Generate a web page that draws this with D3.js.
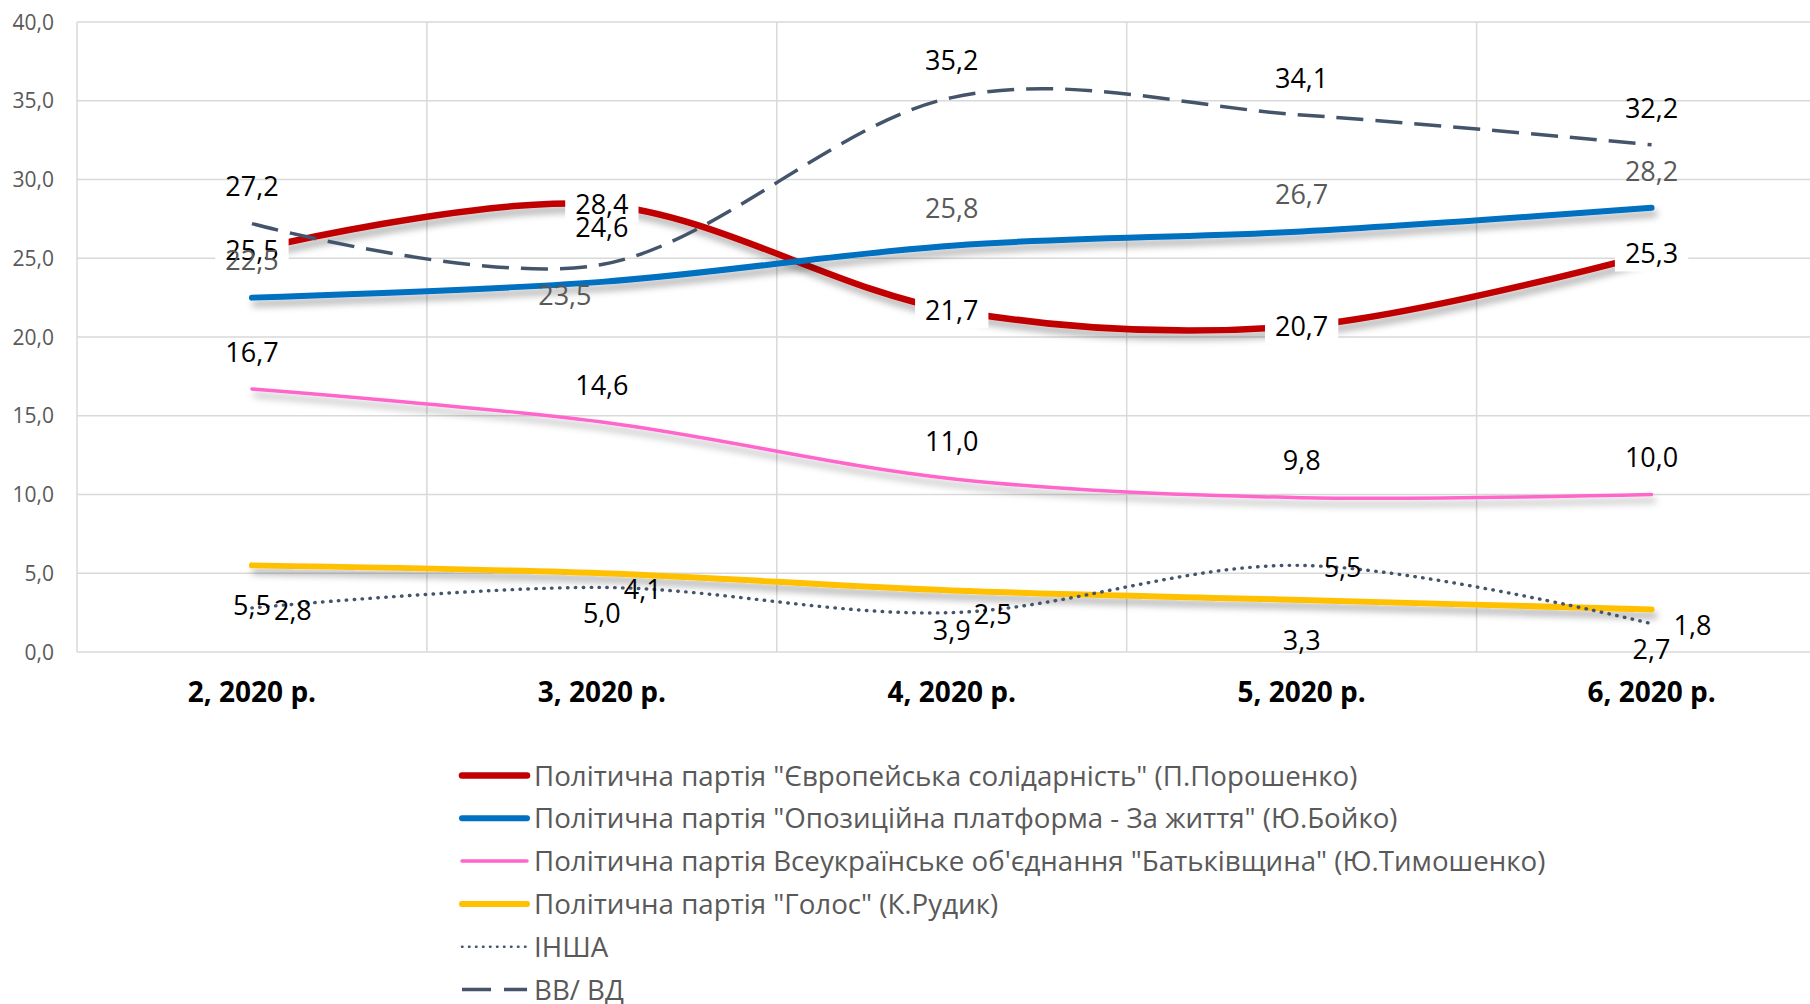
<!DOCTYPE html>
<html>
<head>
<meta charset="utf-8">
<script src="https://cdn.jsdelivr.net/npm/d3@7"></script>
<style>
  html, body { margin: 0; padding: 0; background: #fff; overflow: hidden; }
  svg { display: block; font-family: "Open Sans", "Noto Sans", sans-serif; }
  .grid line { stroke: #d9d9d9; stroke-width: 1.5; }
  .ytick { fill: #595959; font-size: 21px; }
  .xtick { fill: #000; font-size: 28px; font-weight: 700; }
  .dlabel { font-size: 27px; }
  .legend text { fill: #595959; font-size: 27.7px; }
</style>
</head>
<body>
<svg id="chart" width="1810" height="1004"></svg>
<script>
// ---------- data ----------
const categories = ["2, 2020 р.", "3, 2020 р.", "4, 2020 р.", "5, 2020 р.", "6, 2020 р."];
const seriesNames = [
  'Політична партія "Європейська солідарність" (П.Порошенко)',
  'Політична партія "Опозиційна платформа - За життя" (Ю.Бойко)',
  'Політична партія Всеукраїнське об\'єднання "Батьківщина" (Ю.Тимошенко)',
  'Політична партія "Голос" (К.Рудик)',
  "ІНША",
  "ВВ/ ВД"
];
const es = [25.5, 28.4, 21.7, 20.7, 25.3];
const opzzh = [22.5, 23.5, 25.8, 26.7, 28.2];
const batk = [16.7, 14.6, 11.0, 9.8, 10.0];
const holos = [5.5, 5.0, 3.9, 3.3, 2.7];
const other = [2.8, 4.1, 2.5, 5.5, 1.8];
const undecided = [27.2, 24.6, 35.2, 34.1, 32.2];
const yTicks = [0, 5, 10, 15, 20, 25, 30, 35, 40];

// ---------- styles per series ----------
const styles = [
  { color: "#C00000", width: 6.5, shadow: true, label: "center", lblColor: "#000", boxed: true },
  { color: "#0070C0", width: 6, shadow: true, label: "above", lblColor: "#595959" },
  { color: "#FF66CC", width: 3.5, shadow: true, label: "above", lblColor: "#000" },
  { color: "#FFC000", width: 6, shadow: true, label: "below", lblColor: "#000" },
  { color: "#44546A", width: 3.4, dash: "0.5,7.4", cap: "round", label: "right", lblColor: "#000" },
  { color: "#44546A", width: 3.5, dash: "27,12", label: "above", lblColor: "#000" }
];
const values = [es, opzzh, batk, holos, other, undecided];
// one label dragged by hand in the original
const labelNudge = { "1-1": [-37, 50] };

const svg = d3.select("#chart");

const x = d3.scaleBand().domain(categories).range([77, 1826.5]);
const cx = c => x(c) + x.bandwidth() / 2;
const y = d3.scaleLinear().domain([0, 40]).range([652, 22]);
const fmt = v => d3.format(".1f")(v).replace(".", ",");

// shadow
const defs = svg.append("defs");
const f = defs.append("filter").attr("id", "shadow")
  .attr("x", "-5%").attr("y", "-50%").attr("width", "110%").attr("height", "200%");
f.append("feDropShadow").attr("dx", 3).attr("dy", 6).attr("stdDeviation", 3.5)
  .attr("flood-color", "#000").attr("flood-opacity", 0.32);

// ---------- grid ----------
const grid = svg.append("g").attr("class", "grid");
grid.selectAll("line.h").data(yTicks).join("line").attr("class", "h")
  .attr("x1", 77).attr("x2", 1810)
  .attr("y1", d => y(d)).attr("y2", d => y(d));
grid.selectAll("line.v").data(categories).join("line").attr("class", "v")
  .attr("x1", d => x(d) + x.bandwidth()).attr("x2", d => x(d) + x.bandwidth())
  .attr("y1", y(40)).attr("y2", y(0));
grid.append("line").attr("x1", 77).attr("x2", 77).attr("y1", y(40)).attr("y2", y(0));

// y axis labels
svg.append("g").selectAll("text").data(yTicks).join("text")
  .attr("class", "ytick")
  .attr("x", 54).attr("y", d => y(d) + 7.5)
  .attr("text-anchor", "end")
  .text(fmt);

// x axis labels
svg.append("g").selectAll("text").data(categories).join("text")
  .attr("class", "xtick")
  .attr("x", d => cx(d)).attr("y", 702)
  .attr("text-anchor", "middle")
  .text(d => d);

// ---------- lines ----------
const line = d3.line()
  .x((d, i) => cx(categories[i]))
  .y(d => y(d))
  .curve(d3.curveCardinal.tension(0));

const linesG = svg.append("g");
values.forEach((vals, s) => {
  const st = styles[s];
  linesG.append("path")
    .attr("d", line(vals))
    .attr("fill", "none")
    .attr("stroke", st.color)
    .attr("stroke-width", st.width)
    .attr("stroke-linecap", st.cap || (st.dash ? "butt" : "round"))
    .attr("stroke-dasharray", st.dash || null)
    .attr("filter", st.shadow ? "url(#shadow)" : null);
});

// ---------- data labels ----------
const lblG = svg.append("g");
values.forEach((vals, s) => {
  const st = styles[s];
  vals.forEach((v, i) => {
    let px = cx(categories[i]), py = y(v), anchor = "middle";
    if (st.label === "above") py -= 37;
    else if (st.label === "below") py += 40;
    else if (st.label === "right") { px += 22; py += 2; anchor = "start"; }
    const n = labelNudge[s + "-" + i];
    if (n) { px += n[0]; py += n[1]; }
    const g = lblG.append("g");
    const t = g.append("text")
      .attr("class", "dlabel")
      .attr("x", px).attr("y", py + 9.7)
      .attr("text-anchor", anchor)
      .attr("fill", st.lblColor)
      .text(fmt(v));
    if (st.boxed) {
      const bb = t.node().getBBox();
      g.insert("rect", "text")
        .attr("x", bb.x - 10).attr("y", py - 18)
        .attr("width", bb.width + 20).attr("height", 36)
        .attr("fill", "#fff");
    }
  });
});

// ---------- legend ----------
const legend = svg.append("g").attr("class", "legend");
const rowY = d3.range(seriesNames.length).map(i => 775.5 + i * 42.8);
seriesNames.forEach((name, s) => {
  const st = styles[s];
  const ly = rowY[s];
  legend.append("line")
    .attr("x1", 462).attr("x2", 527)
    .attr("y1", ly).attr("y2", ly)
    .attr("stroke", st.color)
    .attr("stroke-width", s === 4 ? 2.5 : st.width)
    .attr("stroke-linecap", st.dash ? (st.cap || "butt") : "round")
    .attr("stroke-dasharray", s === 4 ? "0.5,6.5" : (s === 5 ? "29,13" : null));
  legend.append("text")
    .attr("x", 534).attr("y", ly + 10)
    .text(name);
});
</script>
</body>
</html>
